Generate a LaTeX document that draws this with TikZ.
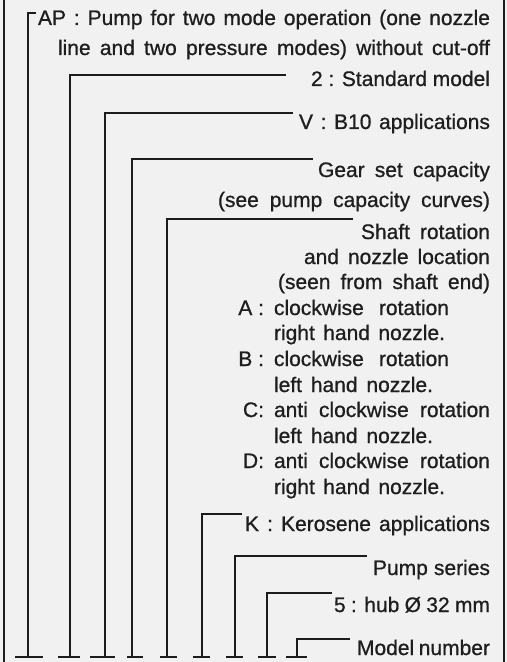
\documentclass[tikz,border=0pt]{standalone}
\usepackage{fontspec}
\setmainfont{Liberation Sans}
\newfontfamily\lblfont{Liberation Sans}[FakeBold=0.8]
\definecolor{bgc}{HTML}{F1F1F1}
\definecolor{lnc}{HTML}{1C1C1C}
\definecolor{txc}{HTML}{1E1E1E}
\newcommand{\sline}[2]{\makebox[#1bp][s]{#2}}
\begin{document}
\begin{tikzpicture}[x=1bp,y=-1bp,
  lead/.style={draw=lnc,line width=2.2bp},
  frame/.style={draw=lnc,line width=2.2bp},
  lbl/.style={inner sep=0pt,outer sep=0pt,text=txc,font=\lblfont\fontsize{21bp}{25bp}\selectfont,anchor=base east},
  lblw/.style={lbl,anchor=base west}]
\useasboundingbox (0,0) rectangle (507,662);
\fill[bgc] (0,0) rectangle (507,662);
\draw[frame] (4,0) -- (4,662);
\draw[frame] (504,0) -- (504,662);

% texts
\node[lbl] (t1) at (490,25) {\sline{452}{AP : Pump for two mode operation (one nozzle}};
\node[lbl] (t1b) at (490,55) {\sline{432}{line and two pressure modes) without cut-off}};
\node[lbl] (t2) at (490,86) {\sline{179}{2 : Standard model}};
\node[lbl] (t3) at (490,129) {\sline{191}{V : B10 applications}};
\node[lbl] (t4) at (490,177) {\sline{172}{Gear set capacity}};
\node[lbl] (t4b) at (490,207) {\sline{272}{(see pump capacity curves)}};
\node[lbl] (t5) at (490,239) {\sline{129}{Shaft rotation}};
\node[lbl] (t5b) at (490,264) {\sline{186}{and nozzle location}};
\node[lbl] (t5c) at (490,289) {\sline{212}{(seen from shaft end)}};
\node[lbl] (ka) at (264,315) {A :};
\node[lblw] (ta1) at (274,315) {\sline{175}{clockwise rotation}};
\node[lblw] (ta2) at (274,340) {\sline{171}{right hand nozzle.}};
\node[lbl] (kb) at (264,366) {B :};
\node[lblw] (tb1) at (274,366) {\sline{175}{clockwise rotation}};
\node[lblw] (tb2) at (274,392) {\sline{159}{left hand nozzle.}};
\node[lbl] (kc) at (264,417) {C:};
\node[lblw] (tc1) at (274,417) {\sline{216}{anti clockwise rotation}};
\node[lblw] (tc2) at (274,443) {\sline{159}{left hand nozzle.}};
\node[lbl] (kd) at (264,468) {D:};
\node[lblw] (td1) at (274,468) {\sline{216}{anti clockwise rotation}};
\node[lblw] (td2) at (274,494) {\sline{171}{right hand nozzle.}};
\node[lbl] (t6) at (490,531) {\sline{245}{K : Kerosene applications}};
\node[lbl] (t7) at (490,575) {\sline{117}{Pump series}};
\node[lbl] (t8) at (490,612) {\sline{156}{5 : hub Ø 32 mm}};
\node[lbl] (t9) at (490,655) {\sline{133}{Model number}};

% leader coordinates: bottom, top end, bar left, bar right
\foreach \i/\x/\y/\e/\bl/\br in {
  1/28/13/36/15/43,
  2/70/75/286/58/80,
  3/105/113/293/90/115,
  4/132/159/313/127/143,
  5/167/219/353/160/177,
  6/202/514/242/193/210,
  7/235/556/367/226/243,
  8/267/593/332/258/276,
  9/297/639/350/286/307}{
  \coordinate (b\i) at (\x,657);
  \coordinate (e\i) at (\e,\y);
  \coordinate (bl\i) at (\bl,657);
  \coordinate (br\i) at (\br,657);
  \draw[lead] (b\i) |- (e\i);
  \draw[lead] (bl\i) -- (br\i);
}
\end{tikzpicture}
\end{document}
